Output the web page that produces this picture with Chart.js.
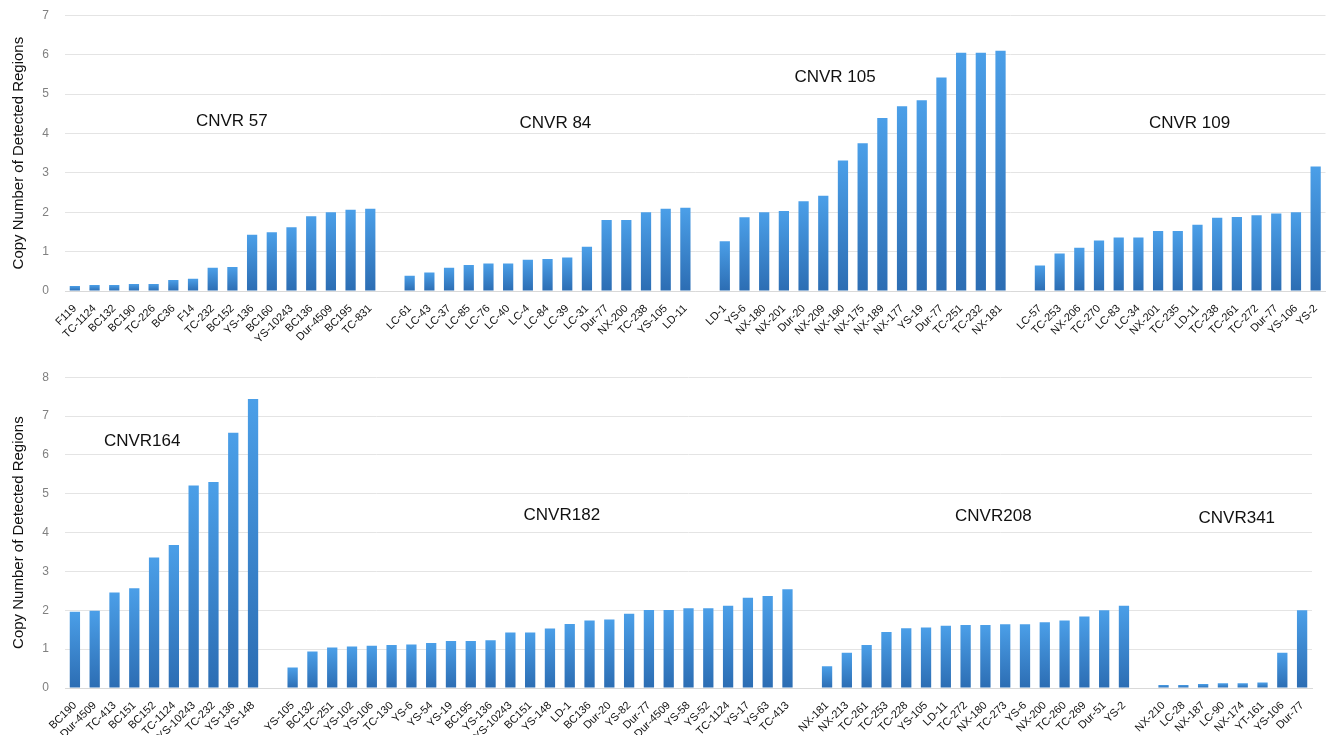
<!DOCTYPE html>
<html>
<head>
<meta charset="utf-8">
<script src="https://cdn.jsdelivr.net/npm/chart.js@4.4.1/dist/chart.umd.min.js"></script>
<style>
  html, body { margin: 0; padding: 0; background: #fff; overflow: hidden; }
  .panel { position: absolute; left: 0; width: 1328px; }
  #topBox { top: -8px; height: 353px; }
  #bottomBox { top: 354px; height: 381px; }
</style>
</head>
<body>
<div class="panel" id="topBox"><canvas id="topChart"></canvas></div>
<div class="panel" id="bottomBox"><canvas id="bottomChart"></canvas></div>
<script>
// ---- top panel data ----
const cnvr57Labels = ["F119", "TC-1124", "BC132", "BC190", "TC-226", "BC36", "F14", "TC-232", "BC152", "YS-136", "BC160", "YS-10243", "BC136", "Dur-4509", "BC195", "TC-831"];
const cnvr57Values = [0.13, 0.15, 0.15, 0.18, 0.18, 0.28, 0.31, 0.59, 0.61, 1.43, 1.49, 1.62, 1.90, 2.00, 2.06, 2.09];

const cnvr84Labels = ["LC-61", "LC-43", "LC-37", "LC-85", "LC-76", "LC-40", "LC-4", "LC-84", "LC-39", "LC-31", "Dur-77", "NX-200", "TC-238", "YS-105", "LD-11"];
const cnvr84Values = [0.39, 0.47, 0.59, 0.66, 0.70, 0.70, 0.79, 0.81, 0.85, 1.12, 1.80, 1.80, 2.00, 2.09, 2.11];

const cnvr105Labels = ["LD-1", "YS-6", "NX-180", "NX-201", "Dur-20", "NX-209", "NX-190", "NX-175", "NX-189", "NX-177", "YS-19", "Dur-77", "TC-251", "TC-232", "NX-181"];
const cnvr105Values = [1.26, 1.87, 2.00, 2.03, 2.28, 2.42, 3.31, 3.75, 4.39, 4.69, 4.84, 5.42, 6.05, 6.05, 6.10];

const cnvr109Labels = ["LC-57", "TC-253", "NX-206", "TC-270", "LC-83", "LC-34", "NX-201", "TC-235", "LD-11", "TC-238", "TC-261", "TC-272", "Dur-77", "YS-106", "YS-2"];
const cnvr109Values = [0.65, 0.95, 1.10, 1.28, 1.36, 1.36, 1.52, 1.52, 1.68, 1.86, 1.88, 1.92, 1.97, 2.00, 3.16];

// ---- bottom panel data ----
const cnvr164Labels = ["BC190", "Dur-4509", "TC-413", "BC151", "BC152", "TC-1124", "YS-10243", "TC-232", "YS-136", "YS-148"];
const cnvr164Values = [1.96, 1.99, 2.46, 2.57, 3.36, 3.68, 5.21, 5.30, 6.57, 7.44];

const cnvr182Labels = ["YS-105", "BC132", "TC-251", "YS-102", "YS-106", "TC-130", "YS-6", "YS-54", "YS-19", "BC195", "YS-136", "YS-10243", "BC151", "YS-148", "LD-1", "BC136", "Dur-20", "YS-82", "Dur-77", "Dur-4509", "YS-58", "YS-52", "TC-1124", "YS-17", "YS-63", "TC-413"];
const cnvr182Values = [0.53, 0.94, 1.04, 1.07, 1.09, 1.11, 1.12, 1.16, 1.21, 1.21, 1.23, 1.43, 1.43, 1.53, 1.65, 1.74, 1.76, 1.91, 2.01, 2.01, 2.05, 2.05, 2.12, 2.32, 2.37, 2.54];

const cnvr208Labels = ["NX-181", "NX-213", "TC-261", "TC-253", "TC-228", "YS-105", "LD-11", "TC-272", "NX-180", "TC-273", "YS-6", "NX-200", "TC-260", "TC-269", "Dur-51", "YS-2"];
const cnvr208Values = [0.56, 0.91, 1.11, 1.44, 1.54, 1.56, 1.60, 1.62, 1.62, 1.64, 1.64, 1.69, 1.74, 1.84, 2.00, 2.12];

const cnvr341Labels = ["NX-210", "LC-28", "NX-187", "LC-90", "NX-174", "YT-161", "YS-106", "Dur-77"];
const cnvr341Values = [0.08, 0.08, 0.10, 0.12, 0.12, 0.14, 0.91, 2.00];

const topTicksMax = 7;
const bottomTicksMax = 8;

// group titles: [text, category position, value height]
const topTitles = [["CNVR 57", 7.97, 4.31], ["CNVR 84", 24.4, 4.26], ["CNVR 105", 38.6, 5.43], ["CNVR 109", 56.6, 4.26]];
const bottomTitles = [["CNVR164", 3.4, 6.35], ["CNVR182", 24.6, 4.45], ["CNVR208", 46.4, 4.42], ["CNVR341", 58.7, 4.37]];

// join groups with one empty slot between them
function joinGroups(groups) {
    const labels = [];
    const values = [];
    groups.forEach(([l, v], i) => {
        if (i > 0) { labels.push(""); values.push(null); }
        labels.push(...l);
        values.push(...v);
    });
    return { labels, values };
}

const groupTitles = {
    id: "groupTitles",
    afterDatasetsDraw(chart, args, opts) {
        const { ctx, scales } = chart;
        ctx.save();
        ctx.fillStyle = "#111";
        ctx.font = "17px 'Liberation Sans', Arial, sans-serif";
        ctx.textAlign = "center";
        ctx.textBaseline = "middle";
        opts.items.forEach(([text, x, y]) => {
            ctx.fillText(text, scales.x.getPixelForValue(x), scales.y.getPixelForValue(y));
        });
        ctx.restore();
    }
};

function barGradient(ctx) {
    const chart = ctx.chart;
    const y = chart.scales.y;
    const v = ctx.raw;
    if (!y || v == null || !chart.chartArea) return "#3a86d4";
    const top = y.getPixelForValue(v);
    const bottom = y.getPixelForValue(0);
    if (!isFinite(top) || bottom - top < 1) return "#2f72ba";
    const g = chart.ctx.createLinearGradient(0, top, 0, bottom);
    g.addColorStop(0, "#4b9fe8");
    g.addColorStop(1, "#2c6db3");
    return g;
}

function makeChart(id, groups, max, titles, xHeight, pad) {
    const { labels, values } = joinGroups(groups);
    return new Chart(document.getElementById(id), {
        type: "bar",
        data: {
            labels,
            datasets: [{
                data: values,
                backgroundColor: barGradient,
                barPercentage: 0.52,
                categoryPercentage: 1,
            }],
        },
        options: {
            responsive: true,
            maintainAspectRatio: false,
            animation: false,
            layout: { padding: pad },
            plugins: {
                legend: { display: false },
                tooltip: { enabled: false },
                groupTitles: { items: titles },
            },
            scales: {
                x: {
                    grid: { display: false },
                    border: { display: true, color: "#d9d9d9" },
                    ticks: {
                        autoSkip: false,
                        minRotation: 45,
                        maxRotation: 45,
                        padding: 3,
                        color: "#111",
                        font: { family: "'Liberation Sans', Arial, sans-serif", size: 11 },
                    },
                    afterFit: (s) => { s.height = xHeight; },
                },
                y: {
                    min: 0,
                    max,
                    border: { display: false },
                    grid: { color: "#e4e4e4", drawTicks: false },
                    ticks: {
                        stepSize: 1,
                        padding: 16,
                        color: "#808080",
                        font: { family: "'Liberation Sans', Arial, sans-serif", size: 12 },
                    },
                    title: {
                        display: true,
                        text: "Copy Number of Detected Regions",
                        color: "#111",
                        padding: { top: 10, bottom: 0 },
                        font: { family: "'Liberation Sans', Arial, sans-serif", size: 15 },
                    },
                    afterFit: (s) => { s.width = 65; },
                },
            },
        },
        plugins: [groupTitles],
    });
}

makeChart("topChart",
    [[cnvr57Labels, cnvr57Values], [cnvr84Labels, cnvr84Values], [cnvr105Labels, cnvr105Values], [cnvr109Labels, cnvr109Values]],
    topTicksMax, topTitles, 54, { top: 7, right: 2, left: 0, bottom: 0 });

makeChart("bottomChart",
    [[cnvr164Labels, cnvr164Values], [cnvr182Labels, cnvr182Values], [cnvr208Labels, cnvr208Values], [cnvr341Labels, cnvr341Values]],
    bottomTicksMax, bottomTitles, 47, { top: 11, right: 16, left: 0, bottom: 0 });
</script>
</body>
</html>
